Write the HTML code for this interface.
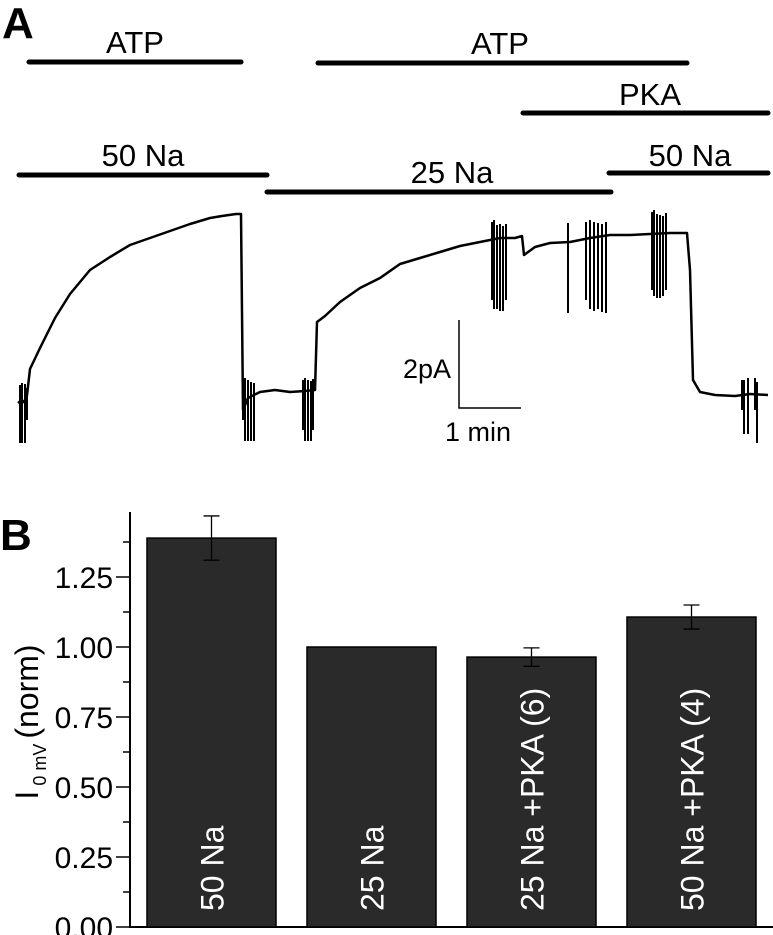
<!DOCTYPE html>
<html><head><meta charset="utf-8"><style>
html,body{margin:0;padding:0;background:#fff}
svg{display:block;font-family:"Liberation Sans",Arial,sans-serif}
</style></head><body>
<svg id="fig" width="773" height="935" viewBox="0 0 773 935">
<g>
<text x="2" y="38" font-size="44" font-weight="bold">A</text>
<g stroke="#000" stroke-width="5" stroke-linecap="round">
<line x1="29" y1="62" x2="241" y2="62"/>
<line x1="318" y1="63" x2="687" y2="63"/>
<line x1="523" y1="113" x2="768" y2="113"/>
<line x1="19" y1="175" x2="267" y2="175"/>
<line x1="267" y1="192" x2="611" y2="192"/>
<line x1="609" y1="173" x2="768" y2="173"/>
</g>
<g font-size="31" text-anchor="middle">
<text x="135" y="53">ATP</text>
<text x="500" y="54">ATP</text>
<text x="650" y="105">PKA</text>
<text x="143" y="166">50 Na</text>
<text x="452" y="183">25 Na</text>
<text x="690" y="166">50 Na</text>
</g>
<g id="trace"></g>
<g>
<polyline points="459,320 459,408 521,408" fill="none" stroke="#000" stroke-width="1.5"/>
<text x="403" y="378" font-size="27">2pA</text>
<text x="445" y="441" font-size="27">1 min</text>
</g>
</g>
<g>
<text x="0" y="550" font-size="44" font-weight="bold">B</text>
<g id="bars"></g>
<text transform="translate(38,722) rotate(-90)" font-size="32" text-anchor="middle">I<tspan font-size="18" dy="8"> 0 mV </tspan><tspan dy="-8">(norm)</tspan></text>
</g>
</svg>
<script>
const traceX = [18,22,26,30,40,55,70,90,110,130,150,170,190,210,222,236,241,243,248,260,275,290,305,315,317,325,340,360,380,400,420,440,460,480,500,515,522,524,535,550,570,590,610,630,650,670,687,690,693,700,715,735,750,768];
const traceY = [403,400,404,369,348,318,294,270,257,245,238,231,224,218,216,214,214,410,398,392,390,392,391,390,322,316,302,288,278,264,258,252,246,242,238,238,236,255,247,243,242,238,235,235,234,233,233,270,380,392,395,396,394,395];
const spikeX = [20,22,25,27,243,245,248,251,254,303,305,308,311,313,492,494,497,500,503,506,568,586,590,594,598,602,606,652,654,657,660,663,666,742,744,748,755,757];
const spikeTop = [385,383,384,388,380,378,380,382,383,380,378,380,381,379,222,220,225,224,226,224,223,222,220,222,223,224,222,212,210,214,215,216,213,380,380,378,378,382];
const spikeBottom = [443,443,443,420,420,441,441,441,441,430,441,441,441,430,300,309,309,311,311,300,313,300,309,311,309,312,313,290,296,298,298,296,290,410,434,434,410,443];

const NS='http://www.w3.org/2000/svg';
const tr=document.getElementById('trace');
let d='';
for(let i=0;i<traceX.length;i++) d+=(i?'L':'M')+traceX[i]+' '+traceY[i];
const p=document.createElementNS(NS,'path');
p.setAttribute('d',d);p.setAttribute('fill','none');p.setAttribute('stroke','#000');p.setAttribute('stroke-width','2.5');p.setAttribute('stroke-linejoin','round');


tr.appendChild(p);
for(let i=0;i<spikeX.length;i++){
  const l=document.createElementNS(NS,'line');
  l.setAttribute('x1',spikeX[i]);l.setAttribute('x2',spikeX[i]);
  l.setAttribute('y1',spikeTop[i]);l.setAttribute('y2',spikeBottom[i]);
  l.setAttribute('stroke','#000');l.setAttribute('stroke-width','2');
  
  
  tr.appendChild(l);
}

// Bar chart data
const categories = ['50 Na','25 Na','25 Na +PKA (6)','50 Na +PKA (4)'];
const values = [1.389,1.0,0.964,1.107];
const errors = [0.079,0,0.033,0.043];
const tickValues = [0,0.25,0.5,0.75,1.0,1.25];
const tickLabels = ['0.00','0.25','0.50','0.75','1.00','1.25'];

const y0=927, pxPerUnit=280, axisX=130;
const yS=v=>y0-v*pxPerUnit;
const barX=i=>147+i*160, barW=129;
const g=document.getElementById('bars');
function el(tag,attrs){const e=document.createElementNS(NS,tag);for(const k in attrs)e.setAttribute(k,attrs[k]);g.appendChild(e);return e;}

let ax=el('line',{x1:axisX,y1:512,x2:axisX,y2:y0+1,stroke:'#000','stroke-width':2});


let xa=el('line',{x1:axisX,y1:y0,x2:773,y2:y0,stroke:'#000','stroke-width':2});


for(let v=0;v<=1.375+1e-9;v+=0.125){
  const major=Math.abs(v/0.25-Math.round(v/0.25))<1e-6;
  const t=el('line',{x1:axisX-(major?14:7),x2:axisX,y1:yS(v),y2:yS(v),stroke:'#000','stroke-width':1.5});
  
  
}
tickValues.forEach((v,i)=>{
  const t=el('text',{x:113,y:yS(v)+11,'font-size':30,'text-anchor':'end'});
  t.textContent=tickLabels[i];
  
  
});
values.forEach((v,i)=>{
  const r=el('rect',{x:barX(i),y:yS(v),width:barW,height:y0-yS(v),fill:'#2a2a2a',stroke:'#000','stroke-width':1.5});
  
  
  if(errors[i]>0){
    const cx=barX(i)+barW/2;
    const e1=el('path',{d:`M${cx} ${yS(v+errors[i])}V${yS(v-errors[i])}M${cx-8} ${yS(v+errors[i])}H${cx+8}M${cx-8} ${yS(v-errors[i])}H${cx+8}`,stroke:'#000','stroke-width':1.3,fill:'none'});
    
    
  }
  const t=el('text',{transform:`translate(${barX(i)+barW/2+12},911) rotate(-90)`,'font-size':32,fill:'#fff'});
  t.textContent=categories[i];
  
  
});
</script>
</body></html>
